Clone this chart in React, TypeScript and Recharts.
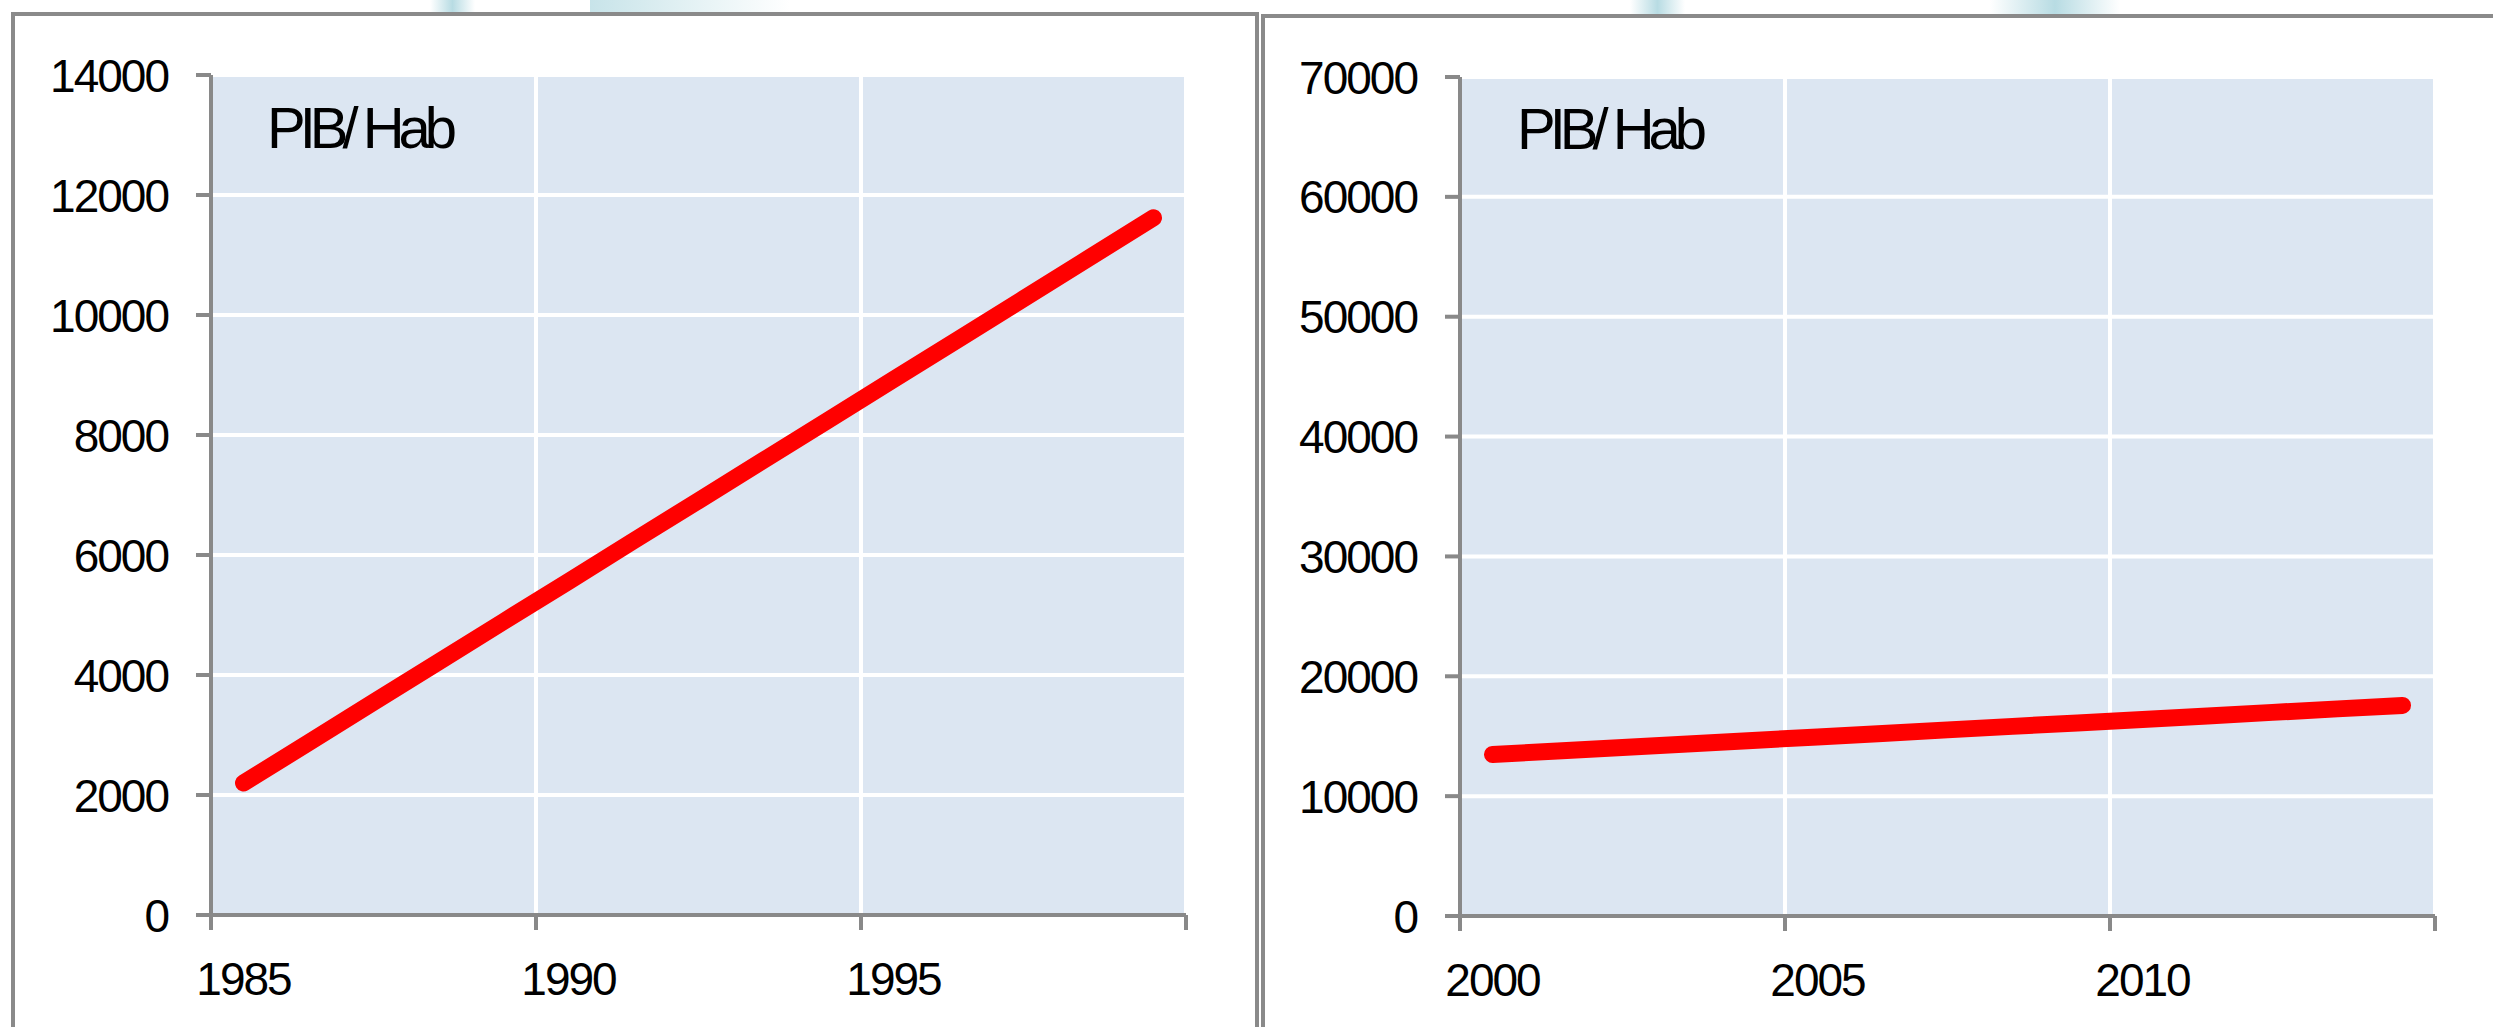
import React from 'react';
import { LineChart, Line, XAxis, YAxis, CartesianGrid, Customized } from 'recharts';

const years1 = [1985, 1986, 1987, 1988, 1989, 1990, 1991, 1992, 1993, 1994, 1995, 1996, 1997, 1998, 1999];
const gdp1 = [2200, 2870, 3545, 4215, 4890, 5560, 6235, 6905, 7580, 8250, 8925, 9595, 10270, 10945, 11620];
const years2 = [2000, 2001, 2002, 2003, 2004, 2005, 2006, 2007, 2008, 2009, 2010, 2011, 2012, 2013, 2014];
const gdp2 = [13480, 13770, 14060, 14350, 14650, 14940, 15230, 15530, 15820, 16110, 16400, 16690, 16990, 17280, 17570];
const yTicks1 = [0, 2000, 4000, 6000, 8000, 10000, 12000, 14000];
const yTicks2 = [0, 10000, 20000, 30000, 40000, 50000, 60000, 70000];
const xBounds1 = [1984.5, 1989.5, 1994.5, 1999.5];
const xLabels1 = [1985, 1990, 1995];
const xBounds2 = [1999.5, 2004.5, 2009.5, 2014.5];
const xLabels2 = [2000, 2005, 2010];
const TITLE = 'PIB/ Hab';

const FONT = '"Liberation Sans", Arial, Helvetica, sans-serif';
const AXIS = '#898989';
const BG = '#DCE6F2';

const YTick = (props: any) => {
  const { x, y, payload } = props;
  return (
    <text x={x} y={y} dy="0.36em" textAnchor="end" fontFamily={FONT} fontSize={46} letterSpacing={-2} fill="#000">
      {payload.value}
    </text>
  );
};

const XTick = (props: any) => {
  const { x, y, payload } = props;
  return (
    <text x={x} y={y} dy="0.71em" textAnchor="middle" fontFamily={FONT} fontSize={46} letterSpacing={-2} fill="#000">
      {payload.value}
    </text>
  );
};

const EmptyTick = () => <g />;

type PanelProps = {
  years: number[];
  values: number[];
  yTicks: number[];
  bounds: number[];
  labels: number[];
  width: number;
  margin: { top: number; right: number; left: number; bottom: number };
  titleX: number;
  titleY: number;
};

const Panel = ({ years, values, yTicks, bounds, labels, width, margin, titleX, titleY }: PanelProps) => {
  const data = years.map((y, i) => ({ year: y, v: values[i] }));
  const domain = [bounds[0], bounds[bounds.length - 1]];
  return (
    <LineChart width={width} height={1027} data={data} margin={margin}>
      <CartesianGrid fill={BG} stroke="#FFFFFF" strokeWidth={4} fillOpacity={1} />
      <XAxis
        dataKey="year"
        type="number"
        domain={domain}
        ticks={bounds}
        height={15}
        tickSize={15}
        tick={EmptyTick}
        axisLine={{ stroke: AXIS, strokeWidth: 4 }}
        tickLine={{ stroke: AXIS, strokeWidth: 4 }}
        interval={0}
      />
      <XAxis
        xAxisId="lab"
        dataKey="year"
        type="number"
        domain={domain}
        ticks={labels}
        height={80}
        tickSize={0}
        tickMargin={32}
        axisLine={false}
        tickLine={false}
        tick={<XTick />}
        interval={0}
      />
      <YAxis
        type="number"
        domain={[yTicks[0], yTicks[yTicks.length - 1]]}
        ticks={yTicks}
        width={150}
        tickSize={15}
        tickMargin={28}
        axisLine={{ stroke: AXIS, strokeWidth: 4 }}
        tickLine={{ stroke: AXIS, strokeWidth: 4 }}
        tick={<YTick />}
        interval={0}
      />
      <Line
        dataKey="v"
        stroke="#FF0000"
        strokeWidth={17}
        strokeLinecap="round"
        strokeLinejoin="round"
        dot={false}
        activeDot={false}
        type="linear"
        isAnimationActive={false}
      />
      <Customized
        component={() => (
          <text x={titleX} y={titleY} fontFamily={FONT} fontSize={58} letterSpacing={-6} fill="#000">
            {TITLE}
          </text>
        )}
      />
    </LineChart>
  );
};

const deco: React.CSSProperties[] = [
  { left: 430, top: 0, width: 45, height: 14, background: 'linear-gradient(90deg, rgba(255,255,255,0), rgba(176,216,224,0.9) 50%, rgba(255,255,255,0))' },
  { left: 590, top: 0, width: 200, height: 14, background: 'linear-gradient(90deg, rgba(176,216,224,0.7), rgba(200,228,233,0.6) 40%, rgba(255,255,255,0))' },
  { left: 1630, top: 0, width: 55, height: 16, background: 'linear-gradient(90deg, rgba(255,255,255,0), rgba(176,216,224,0.9) 50%, rgba(255,255,255,0))' },
  { left: 1990, top: 0, width: 130, height: 15, background: 'linear-gradient(90deg, rgba(255,255,255,0), rgba(176,216,224,0.9) 50%, rgba(255,255,255,0))' },
];

export default function App() {
  return (
    <div style={{ position: 'absolute', left: 0, top: 0, width: 2493, height: 1027, background: '#fff', overflow: 'hidden' }}>
      {deco.map((s, i) => (
        <div key={i} style={{ position: 'absolute', ...s }} />
      ))}
      <div style={{ position: 'absolute', left: 11, top: 12, width: 1248, height: 1100, border: '4px solid #8a8a8a', boxSizing: 'border-box', background: '#fff' }} />
      <div style={{ position: 'absolute', left: 1261, top: 14, width: 1300, height: 1100, border: '4px solid #8a8a8a', boxSizing: 'border-box', background: '#fff' }} />
      <div style={{ position: 'absolute', left: 0, top: 0 }}>
        <Panel
          years={years1}
          values={gdp1}
          yTicks={yTicks1}
          bounds={xBounds1}
          labels={xLabels1}
          width={1250}
          margin={{ top: 75, right: 64, left: 61, bottom: 17 }}
          titleX={267}
          titleY={148}
        />
      </div>
      <div style={{ position: 'absolute', left: 1250, top: 0 }}>
        <Panel
          years={years2}
          values={gdp2}
          yTicks={yTicks2}
          bounds={xBounds2}
          labels={xLabels2}
          width={1243}
          margin={{ top: 77, right: 58, left: 60, bottom: 16 }}
          titleX={267}
          titleY={149}
        />
      </div>
    </div>
  );
}
